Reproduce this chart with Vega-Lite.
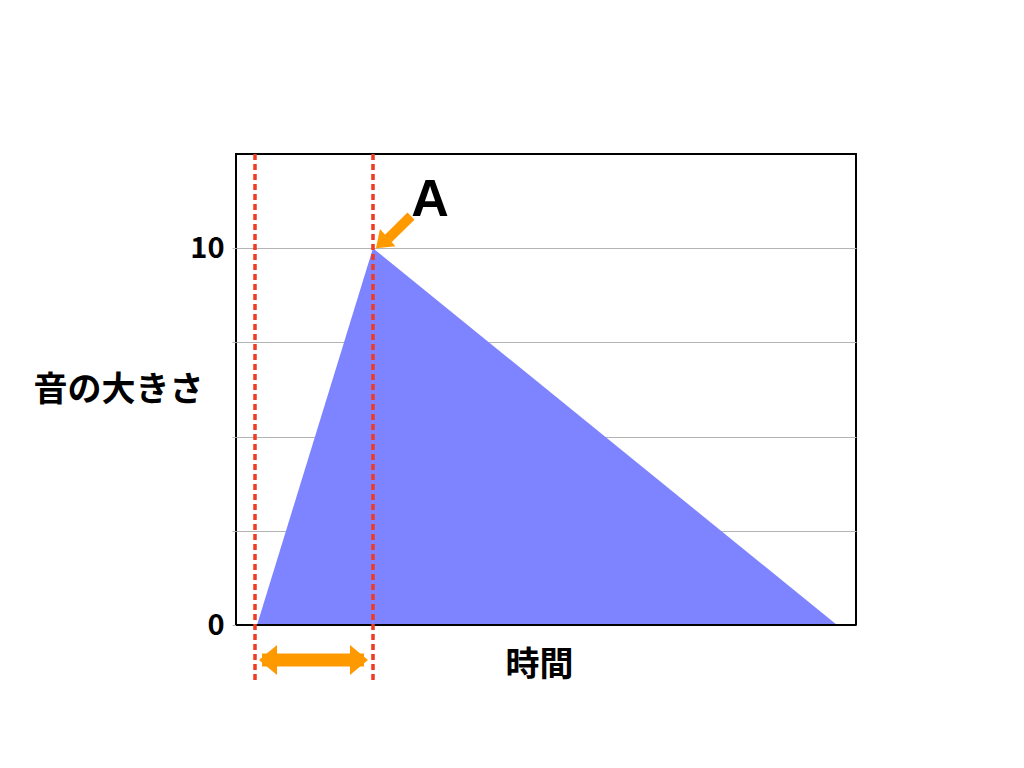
{
  "$schema": "https://vega.github.io/schema/vega-lite/v6.json",
  "autosize": "none",
  "width": 620,
  "height": 471,
  "padding": {"left": 236, "top": 154, "right": 168, "bottom": 143},
  "background": "white",
  "config": {
    "view": {"stroke": "black", "strokeWidth": 2},
    "font": "Noto Sans CJK JP"
  },
  "datasets": {
    "wave": [
      {"time": 1.05, "level": 0},
      {"time": 6.85, "level": 10},
      {"time": 30.05, "level": 0}
    ],
    "markers": [
      {"time": 0.95, "top": 12.5, "bottom": -1.54},
      {"time": 6.85, "top": 12.5, "bottom": -1.54}
    ],
    "span": [
      {"from": 1.3, "to": 6.4, "level": -0.93}
    ],
    "heads": [
      {"time": 1.15, "level": -0.93, "dir": "left"},
      {"time": 6.6, "level": -0.93, "dir": "right"}
    ],
    "pointer": [
      {"x1": 8.75, "y1": 10.85, "x2": 7.6, "y2": 10.25}
    ],
    "pointerHead": [
      {"time": 7.0, "level": 10.0, "angle": -42}
    ],
    "labels": [
      {"time": 9.7, "level": 11.28, "text": "A"}
    ]
  },
  "layer": [
    {
      "data": {"name": "wave"},
      "mark": {"type": "area", "color": "#7e84ff", "opacity": 1},
      "encoding": {
        "x": {
          "field": "time", "type": "quantitative",
          "scale": {"domain": [0, 31], "nice": false, "zero": false},
          "axis": {
            "title": "時間", "labels": false, "ticks": false, "domain": false, "grid": false,
            "titleFontSize": 34, "titleFontWeight": "bold", "titleColor": "black",
            "titleX": 303, "titleY": 40, "titleBaseline": "middle", "titleAlign": "center"
          }
        },
        "y": {
          "field": "level", "type": "quantitative",
          "scale": {"domain": [0, 12.5], "nice": false},
          "axis": {
            "title": "音の大きさ",
            "values": [0, 2.5, 5, 7.5, 10],
            "labelExpr": "datum.value == 0 || datum.value == 10 ? datum.label : ''",
            "labelFontSize": 29, "labelFontWeight": "bold", "labelColor": "black",
            "labelPadding": 8,
            "tickColor": "#b4b4b4", "tickSize": 4,
            "gridColor": "#b4b4b4", "gridWidth": 1,
            "domain": false,
            "titleFontSize": 34, "titleFontWeight": "bold", "titleColor": "black",
            "titleAngle": 0, "titleX": -118, "titleY": 236,
            "titleAlign": "center", "titleBaseline": "middle"
          }
        }
      }
    },
    {
      "data": {"values": [{"level": 0}]},
      "mark": {"type": "rule", "color": "black", "strokeWidth": 2},
      "encoding": {"y": {"field": "level", "type": "quantitative"}}
    },
    {
      "data": {"name": "markers"},
      "mark": {"type": "rule", "color": "#f03a22", "strokeWidth": 3.5, "strokeDash": [6, 4]},
      "encoding": {
        "x": {"field": "time", "type": "quantitative"},
        "y": {"field": "top", "type": "quantitative"},
        "y2": {"field": "bottom"}
      }
    },
    {
      "data": {"name": "span"},
      "mark": {"type": "rule", "color": "#ff9900", "strokeWidth": 13},
      "encoding": {
        "x": {"field": "from", "type": "quantitative"},
        "x2": {"field": "to"},
        "y": {"field": "level", "type": "quantitative"}
      }
    },
    {
      "data": {"name": "heads"},
      "transform": [{"filter": "datum.dir == 'left'"}],
      "mark": {"type": "point", "filled": true, "color": "#ff9900", "opacity": 1, "size": 1600, "strokeWidth": 0, "shape": "M 0 0 L 0.9 -0.75 L 0.9 0.75 Z"},
      "encoding": {
        "x": {"field": "time", "type": "quantitative"},
        "y": {"field": "level", "type": "quantitative"}
      }
    },
    {
      "data": {"name": "heads"},
      "transform": [{"filter": "datum.dir == 'right'"}],
      "mark": {"type": "point", "filled": true, "color": "#ff9900", "opacity": 1, "size": 1600, "strokeWidth": 0, "shape": "M 0 0 L -0.9 -0.75 L -0.9 0.75 Z"},
      "encoding": {
        "x": {"field": "time", "type": "quantitative"},
        "y": {"field": "level", "type": "quantitative"}
      }
    },
    {
      "data": {"name": "pointer"},
      "mark": {"type": "rule", "color": "#ff9900", "strokeWidth": 10},
      "encoding": {
        "x": {"field": "x1", "type": "quantitative"},
        "y": {"field": "y1", "type": "quantitative"},
        "x2": {"field": "x2"},
        "y2": {"field": "y2"}
      }
    },
    {
      "data": {"name": "pointerHead"},
      "mark": {"type": "point", "filled": true, "color": "#ff9900", "opacity": 1, "size": 1100, "strokeWidth": 0, "shape": "M 0 0 L 0.95 -0.7 L 0.95 0.7 Z"},
      "encoding": {
        "x": {"field": "time", "type": "quantitative"},
        "y": {"field": "level", "type": "quantitative"},
        "angle": {"field": "angle", "type": "quantitative", "scale": null}
      }
    },
    {
      "data": {"name": "labels"},
      "mark": {"type": "text", "font": "Liberation Sans", "fontWeight": "bold", "fontSize": 52, "color": "black", "align": "center", "baseline": "middle"},
      "encoding": {
        "x": {"field": "time", "type": "quantitative"},
        "y": {"field": "level", "type": "quantitative"},
        "text": {"field": "text"}
      }
    }
  ]
}
